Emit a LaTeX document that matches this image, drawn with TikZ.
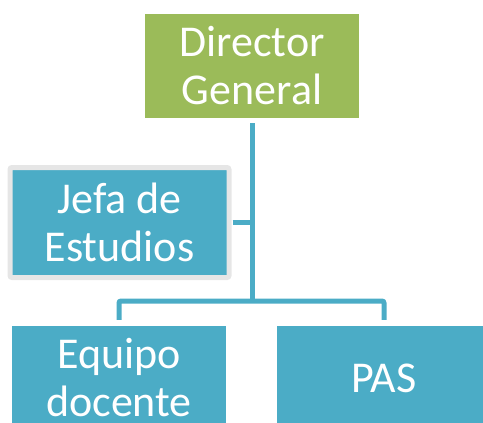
\documentclass[tikz,border=0pt]{standalone}
\usepackage{fontspec}
\setmainfont{Carlito}
\usepackage{tikz}
\usetikzlibrary{positioning}
\definecolor{boxblue}{HTML}{4BACC6}
\definecolor{boxgreen}{HTML}{9BBB59}
\definecolor{boxgrey}{HTML}{E6E6E6}

\begin{document}
\begin{tikzpicture}[x=1pt,y=-1pt,
		font=\fontsize{44}{48}\selectfont,
		unit/.style={rectangle,fill=boxblue,text=white,align=center,minimum width=214pt,minimum height=104pt,inner sep=0pt},
		head/.style={unit,fill=boxgreen},
		staff/.style={unit,draw=boxgrey,line width=5pt,rounded corners=2pt,minimum width=219pt,minimum height=110pt},
		link/.style={draw=boxblue,line width=5pt,rounded corners=2pt}]
		\useasboundingbox (0,0) rectangle (483,423);

		\node[head] (dir) at (252,66) {Director\\General};
		\node[staff] (jefa) at (119.5,222.5) {Jefa de\\Estudios};
		\node[unit] (equipo) at (119,378) {Equipo\\docente};
		\node[unit] (pas) at (384,378) {PAS};

		\coordinate (bus) at (252,301);
		\draw[link,shorten <=5pt] (dir.south) -- (bus);
		\draw[link,shorten <=1pt] (jefa.east) -- (jefa.east -| bus);
		\draw[link,shorten <=6pt,shorten >=6pt] (equipo.north) |- (bus) -| (pas.north);
	\end{tikzpicture}
\end{document}
